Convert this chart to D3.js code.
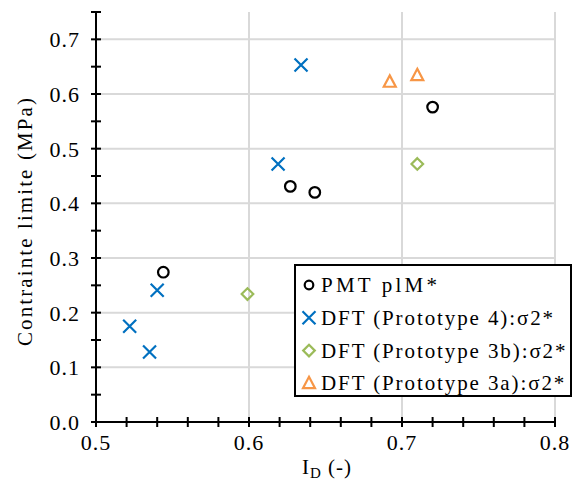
<!DOCTYPE html>
<html><head><meta charset="utf-8">
<script src="https://cdn.jsdelivr.net/npm/d3@7"></script>
<style>body{margin:0;background:#fff}svg{display:block}</style>
</head><body><svg id="c" width="574" height="484"></svg>
<script>
const pmtX=[0.544,0.627,0.643,0.720];
const pmtY=[0.274,0.431,0.420,0.576];
const p4X=[0.522,0.535,0.540,0.619,0.634];
const p4Y=[0.175,0.128,0.241,0.472,0.653];
const p3bX=[0.599,0.710];
const p3bY=[0.234,0.472];
const p3aX=[0.692,0.710];
const p3aY=[0.622,0.634];
const xTicks=[0.5,0.6,0.7,0.8];
const yTicks=[0,0.1,0.2,0.3,0.4,0.5,0.6,0.7];
const legendLabels=["PMT plM*","DFT (Prototype 4):\u03c32*","DFT (Prototype 3b):\u03c32*","DFT (Prototype 3a):\u03c32*"];

const FONT="Liberation Serif";
const svg=d3.select("#c");
const x=d3.scaleLinear().domain([0.5,0.8]).range([96,555]);
const y=d3.scaleLinear().domain([0,0.75]).range([422,12]);
const grid="#d9d9d9";
function T(sel){return sel.attr("font-family",FONT).style("font-family",FONT).attr("fill","#000");}
svg.append("g").selectAll("line").data(yTicks.filter(d=>d>0)).join("line")
 .attr("x1",x(0.5)).attr("x2",x(0.8)).attr("y1",d=>y(d)).attr("y2",d=>y(d)).attr("stroke",grid).attr("stroke-width",2);
svg.append("g").selectAll("line").data(xTicks.filter(d=>d>0.5)).join("line")
 .attr("x1",d=>x(d)).attr("x2",d=>x(d)).attr("y1",y(0)).attr("y2",y(0.75)).attr("stroke",grid).attr("stroke-width",2);

const yMinor=d3.range(0,0.7501,0.05);
const xMinor=d3.range(0.5,0.8001,0.02);
const ax=svg.append("g");
ax.append("line").attr("x1",x(0.5)).attr("x2",x(0.5)).attr("y1",y(0)).attr("y2",y(0.75)).attr("stroke","#000").attr("stroke-width",2);
ax.append("line").attr("x1",x(0.5)-4).attr("x2",x(0.8)).attr("y1",y(0)).attr("y2",y(0)).attr("stroke","#000").attr("stroke-width",2);
ax.selectAll(".yt").data(yMinor).join("line").attr("x1",x(0.5)-5).attr("x2",x(0.5)+5).attr("y1",d=>y(d)).attr("y2",d=>y(d)).attr("stroke","#000").attr("stroke-width",2);
ax.selectAll(".xt").data(xMinor).join("line").attr("y1",y(0)-5).attr("y2",y(0)+5).attr("x1",d=>x(d)).attr("x2",d=>x(d)).attr("stroke","#000").attr("stroke-width",2);
T(ax.selectAll(".yl").data(yTicks).join("text")).attr("x",80).attr("y",d=>y(d)+8).attr("text-anchor","end").attr("font-size",22).attr("letter-spacing",1).text(d=>d.toFixed(1));
T(ax.selectAll(".xl").data(xTicks).join("text")).attr("x",d=>x(d)).attr("y",450).attr("text-anchor","middle").attr("font-size",22).attr("letter-spacing",1).text(d=>d.toFixed(1));

T(svg.append("text")).attr("transform","translate(32,221) rotate(-90)").attr("text-anchor","middle").attr("font-size",21).attr("letter-spacing",2.1).text("Contrainte limite (MPa)");
const xl=T(svg.append("text")).attr("x",327).attr("y",474).attr("text-anchor","middle").attr("font-size",21).attr("letter-spacing",1);
xl.append("tspan").text("I");
xl.append("tspan").attr("font-size",15).attr("dy",4).text("D");
xl.append("tspan").attr("dy",-4).text(" (-)");

const cBlack="#000",cBlue="#0070C0",cGreen="#9BBB59",cOrange="#F79646";
function drawCircle(g,cx,cy,r){g.append("circle").attr("cx",cx).attr("cy",cy).attr("r",r||5.3).attr("fill","none").attr("stroke",cBlack).attr("stroke-width",2.2);}
function drawX(g,cx,cy){const s=6.5;g.append("path").attr("d",`M${cx-s},${cy-s}L${cx+s},${cy+s}M${cx-s},${cy+s}L${cx+s},${cy-s}`).attr("stroke",cBlue).attr("stroke-width",2.2).attr("fill","none");}
function drawDiamond(g,cx,cy){const s=5.8;g.append("path").attr("d",`M${cx},${cy-s}L${cx+s},${cy}L${cx},${cy+s}L${cx-s},${cy}Z`).attr("stroke",cGreen).attr("stroke-width",2.2).attr("fill","none");}
function drawTri(g,cx,cy){const s=6;g.append("path").attr("d",`M${cx},${cy-s*1.1}L${cx+s},${cy+s*0.8}L${cx-s},${cy+s*0.8}Z`).attr("stroke",cOrange).attr("stroke-width",2.2).attr("fill","none");}
const m=svg.append("g");
p4X.forEach((v,i)=>drawX(m,x(v),y(p4Y[i])));
p3bX.forEach((v,i)=>drawDiamond(m,x(v),y(p3bY[i])));
p3aX.forEach((v,i)=>drawTri(m,x(v),y(p3aY[i])));
pmtX.forEach((v,i)=>drawCircle(m,x(v),y(pmtY[i])));

const lg=svg.append("g");
lg.append("rect").attr("x",295).attr("y",265).attr("width",276).attr("height",131).attr("fill","#fff").attr("stroke","#000").attr("stroke-width",2);
const fns=[(g,a,b)=>drawCircle(g,a,b,4.3),drawX,drawDiamond,drawTri];
const lsp=[3.2,1.9,1.9,1.9];
legendLabels.forEach((t,i)=>{
  const yy=285+i*32.8;
  fns[i](lg,309,yy);
  T(lg.append("text")).attr("x",321).attr("y",yy+7).attr("font-size",21).attr("letter-spacing",lsp[i]).text(t);
});
</script></body></html>
